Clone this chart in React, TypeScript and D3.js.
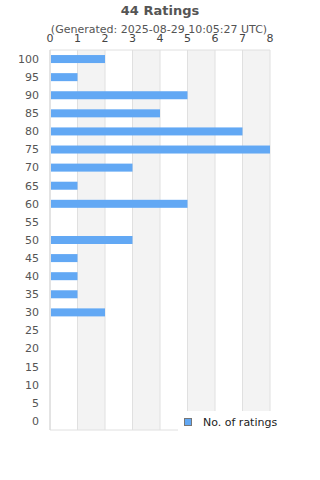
import React from "react";
import * as d3 from "d3";

// ratings buckets (top to bottom) and counts
const categories = ["100", "95", "90", "85", "80", "75", "70", "65", "60", "55", "50", "45", "40", "35", "30", "25", "20", "15", "10", "5", "0"];
const counts = [2, 1, 5, 4, 7, 8, 3, 1, 5, 0, 3, 1, 1, 1, 2, 0, 0, 0, 0, 0, 0];
const xTicks = [0, 1, 2, 3, 4, 5, 6, 7, 8];
const title = "44 Ratings";
const subtitle = "(Generated: 2025-08-29 10:05:27 UTC)";
const legendLabel = "No. of ratings";

const App = () => {
  const width = 320;
  const height = 480;
  const margin = { top: 50, right: 50, bottom: 50, left: 50 };
  const font = "DejaVu Sans, sans-serif";

  const x = d3.scaleLinear().domain([0, 8]).range([margin.left, width - margin.right]);
  const yRow = d3.scaleBand().domain(categories).range([margin.top, height - margin.bottom]);

  return (
    <svg width={width} height={height} style={{ display: "block", position: "absolute", left: 0, top: 0 }}>
      <rect width={width} height={height} fill="#fff" />
      <text x={width / 2} y={15} textAnchor="middle" fontFamily={font} fontWeight="bold" fontSize={13} fill="#555">
        {title}
      </text>
      <text x={width / 2 - 1} y={33} textAnchor="middle" fontFamily={font} fontSize={11} fill="#555">
        {subtitle}
      </text>
      {/* alternating bands */}
      {xTicks.slice(0, -1).map((t) =>
        t % 2 === 1 ? (
          <rect key={"b" + t} x={x(t)} y={margin.top} width={x(t + 1) - x(t)} height={height - margin.top - margin.bottom} fill="#f3f3f3" />
        ) : null
      )}
      {/* grid lines */}
      {xTicks.map((t) => (
        <line key={"g" + t} x1={x(t)} x2={x(t)} y1={margin.top} y2={height - margin.bottom} stroke="#e0e0e0" strokeWidth={1} />
      ))}
      <line x1={x(0)} x2={x(8)} y1={margin.top} y2={margin.top} stroke="#e0e0e0" />
      <line x1={x(0)} x2={x(8)} y1={height - margin.bottom} y2={height - margin.bottom} stroke="#e0e0e0" />
      <line x1={x(0)} x2={x(0)} y1={margin.top} y2={height - margin.bottom} stroke="#d8d8d8" />
      {/* x tick labels */}
      {xTicks.map((t) => (
        <text key={"x" + t} x={x(t)} y={42} textAnchor="middle" fontFamily={font} fontSize={11} fill="#444">
          {t}
        </text>
      ))}
      {/* y labels */}
      {categories.map((c) => (
        <text
          key={"y" + c}
          x={39}
          y={(yRow(c) ?? 0) + yRow.bandwidth() / 2}
          dy="0.35em"
          textAnchor="end"
          fontFamily={font}
          fontSize={11}
          fill="#555"
        >
          {c}
        </text>
      ))}
      {/* bars */}
      {categories.map((c, i) =>
        counts[i] > 0 ? (
          <rect
            key={"r" + c}
            x={x(0) + 1}
            y={(yRow(c) ?? 0) + yRow.bandwidth() / 2 - 4}
            width={x(counts[i]) - x(0) - 1}
            height={8}
            fill="#62a8f4"
          />
        ) : null
      )}
      {/* legend */}
      <rect x={178} y={411} width={142} height={30} fill="#fff" />
      <rect x={184.5} y={418.5} width={7} height={7} fill="#62a8f4" stroke="#777" strokeWidth={1} />
      <text x={203} y={426} fontFamily={font} fontSize={11} fill="#222">
        {legendLabel}
      </text>
    </svg>
  );
};

export default App;
